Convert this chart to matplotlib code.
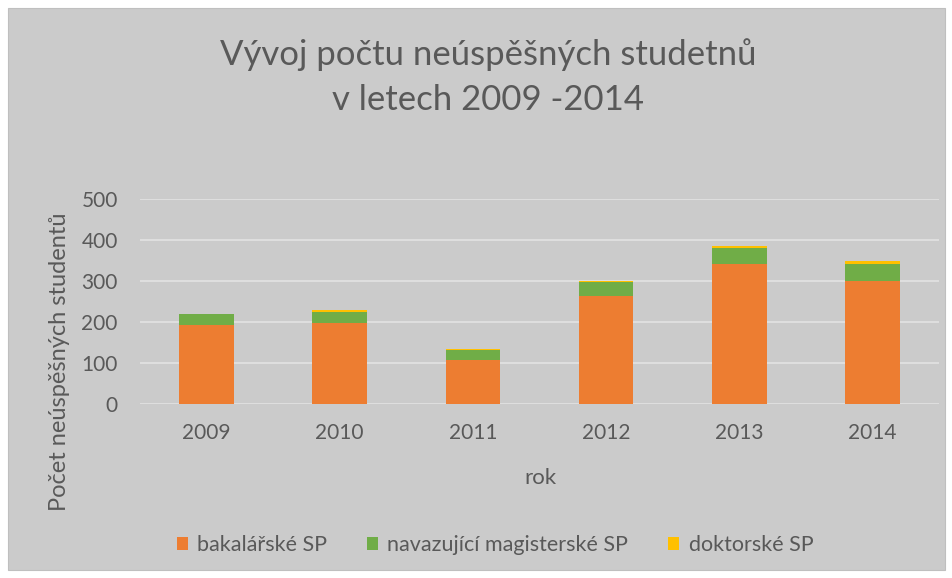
import numpy as np
import matplotlib
matplotlib.use("Agg")
import matplotlib.pyplot as plt

roky = ["2009", "2010", "2011", "2012", "2013", "2014"]
bakalarske = [193, 197, 107, 263, 341, 300]
magisterske = [26, 27, 25, 35, 39, 41]
doktorske = [1, 5, 1, 3, 5, 9]

BG = "#cbcbcb"
TXT = "#595959"

plt.rcParams["font.family"] = ["Lato", "DejaVu Sans"]

fig = plt.figure(figsize=(9.53, 5.78), dpi=100, facecolor="white")
# chart area (gray panel with white margin)
fig.patches.append(plt.Rectangle((8 / 953, 8 / 578), 937 / 953, 562 / 578,
                                 transform=fig.transFigure, facecolor=BG,
                                 edgecolor="#bfbfbf", lw=0.8, zorder=-5))

ax = fig.add_axes([140 / 953, 1 - 404 / 578, 799 / 953, 205 / 578])
ax.set_zorder(2)
ax.set_facecolor(BG)

x = np.arange(len(roky))
bak = np.array(bakalarske)
mag = np.array(magisterske)
dok = np.array(doktorske)
w = 0.41
b1 = ax.bar(x, bak, w, color="#ed7d31", label="bakalářské SP", zorder=3)
b2 = ax.bar(x, mag, w, bottom=bak, color="#70ad47", label="navazující magisterské SP", zorder=3)
b3 = ax.bar(x, dok, w, bottom=bak + mag, color="#ffc000", label="doktorské SP", zorder=3)

ax.set_xlim(-0.5, len(roky) - 0.5)
ax.set_ylim(0, 500)
ax.set_yticks(range(0, 501, 100))
ax.set_xticks(x)
ax.set_xticklabels(roky)
ax.grid(axis="y", color="#e2e2e2", lw=1.2, zorder=1)
ax.tick_params(length=0, colors=TXT, labelsize=15)
ax.tick_params(axis="y", pad=16)
ax.tick_params(axis="x", pad=14)
for s in ax.spines.values():
    s.set_visible(False)

fig.text(488 / 953, 1 - 65 / 578, "Vývoj počtu neúspěšných studetnů",
         ha="center", va="baseline", fontsize=25, color=TXT)
fig.text(488 / 953, 1 - 110 / 578, "v letech 2009 -2014",
         ha="center", va="baseline", fontsize=25, color=TXT)
fig.text(540 / 953, 1 - 478 / 578, "rok", ha="center", va="center",
         fontsize=16, color=TXT)
fig.text(60 / 953, 1 - 362 / 578, "Počet neúspěšných studentů", ha="center",
         va="center", rotation=90, fontsize=17, color=TXT)

fig.legend(handles=[b1, b2, b3], loc="center", bbox_to_anchor=(495 / 953, 1 - 545 / 578),
           ncol=3, frameon=False, fontsize=15.5, labelcolor=TXT,
           handlelength=0.5, handleheight=0.6, handletextpad=0.45, columnspacing=1.85)

fig.savefig("out.png", dpi=100, facecolor="white")
